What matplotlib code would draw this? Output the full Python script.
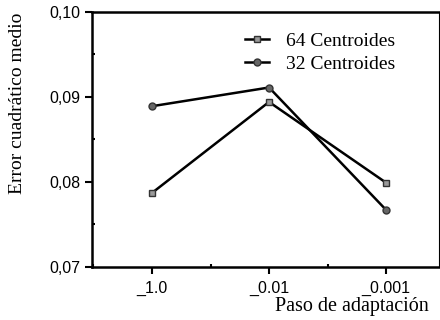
import matplotlib.pyplot as plt
from matplotlib.ticker import MultipleLocator

# Data
steps = ['_1.0', '_0.01', '_0.001']
err_64 = [0.0787, 0.0894, 0.0799]
err_32 = [0.0889, 0.0911, 0.0767]

fig = plt.figure(figsize=(4.4, 3.2), dpi=100)
ax = fig.add_axes([0.209, 0.166, 0.789, 0.797])

x = range(len(steps))
ax.plot(x, err_64, color='black', lw=1.8, marker='s', markersize=5,
        markerfacecolor='#9a9a9a', markeredgecolor='#333333', label='64 Centroides')
ax.plot(x, err_32, color='black', lw=1.8, marker='o', markersize=5,
        markerfacecolor='#666666', markeredgecolor='#333333', label='32 Centroides')

ax.set_xlim(-0.513, 2.453)
ax.set_ylim(0.07, 0.10)
ax.set_xticks(list(x))
ax.set_xticklabels(steps, fontsize=11.5, family='Liberation Sans')
ax.set_yticks([0.07, 0.08, 0.09, 0.10])
ax.set_yticklabels(['0,07', '0,08', '0,09', '0,10'], fontsize=11.5, family='Liberation Sans')
ax.yaxis.set_minor_locator(MultipleLocator(0.005))
ax.xaxis.set_minor_locator(MultipleLocator(0.5))

ax.tick_params(axis='both', which='major', direction='out', length=5, width=1.5, pad=3)
ax.tick_params(axis='both', which='minor', direction='in', length=2, width=1.5)
ax.tick_params(axis='x', which='major', pad=5)

for side in ['left', 'bottom', 'top']:
    ax.spines[side].set_linewidth(1.8)
ax.spines['right'].set_linewidth(0.8)

ax.set_ylabel('Error cuadrático medio', fontsize=14, family='Liberation Serif')
ax.yaxis.set_label_coords(-0.19, 0.64)
ax.set_xlabel('Paso de adaptación', fontsize=14.5, family='Liberation Serif')
ax.xaxis.set_label_coords(0.97, -0.12)
ax.xaxis.label.set_horizontalalignment('right')
ax.xaxis.label.set_verticalalignment('top')

ax.legend(loc='upper right', bbox_to_anchor=(0.925, 0.99), frameon=False,
          prop={'family': 'Liberation Serif', 'size': 14}, handlelength=1.2,
          handletextpad=0.9, labelspacing=0.3)

plt.savefig('out.png', dpi=100)
